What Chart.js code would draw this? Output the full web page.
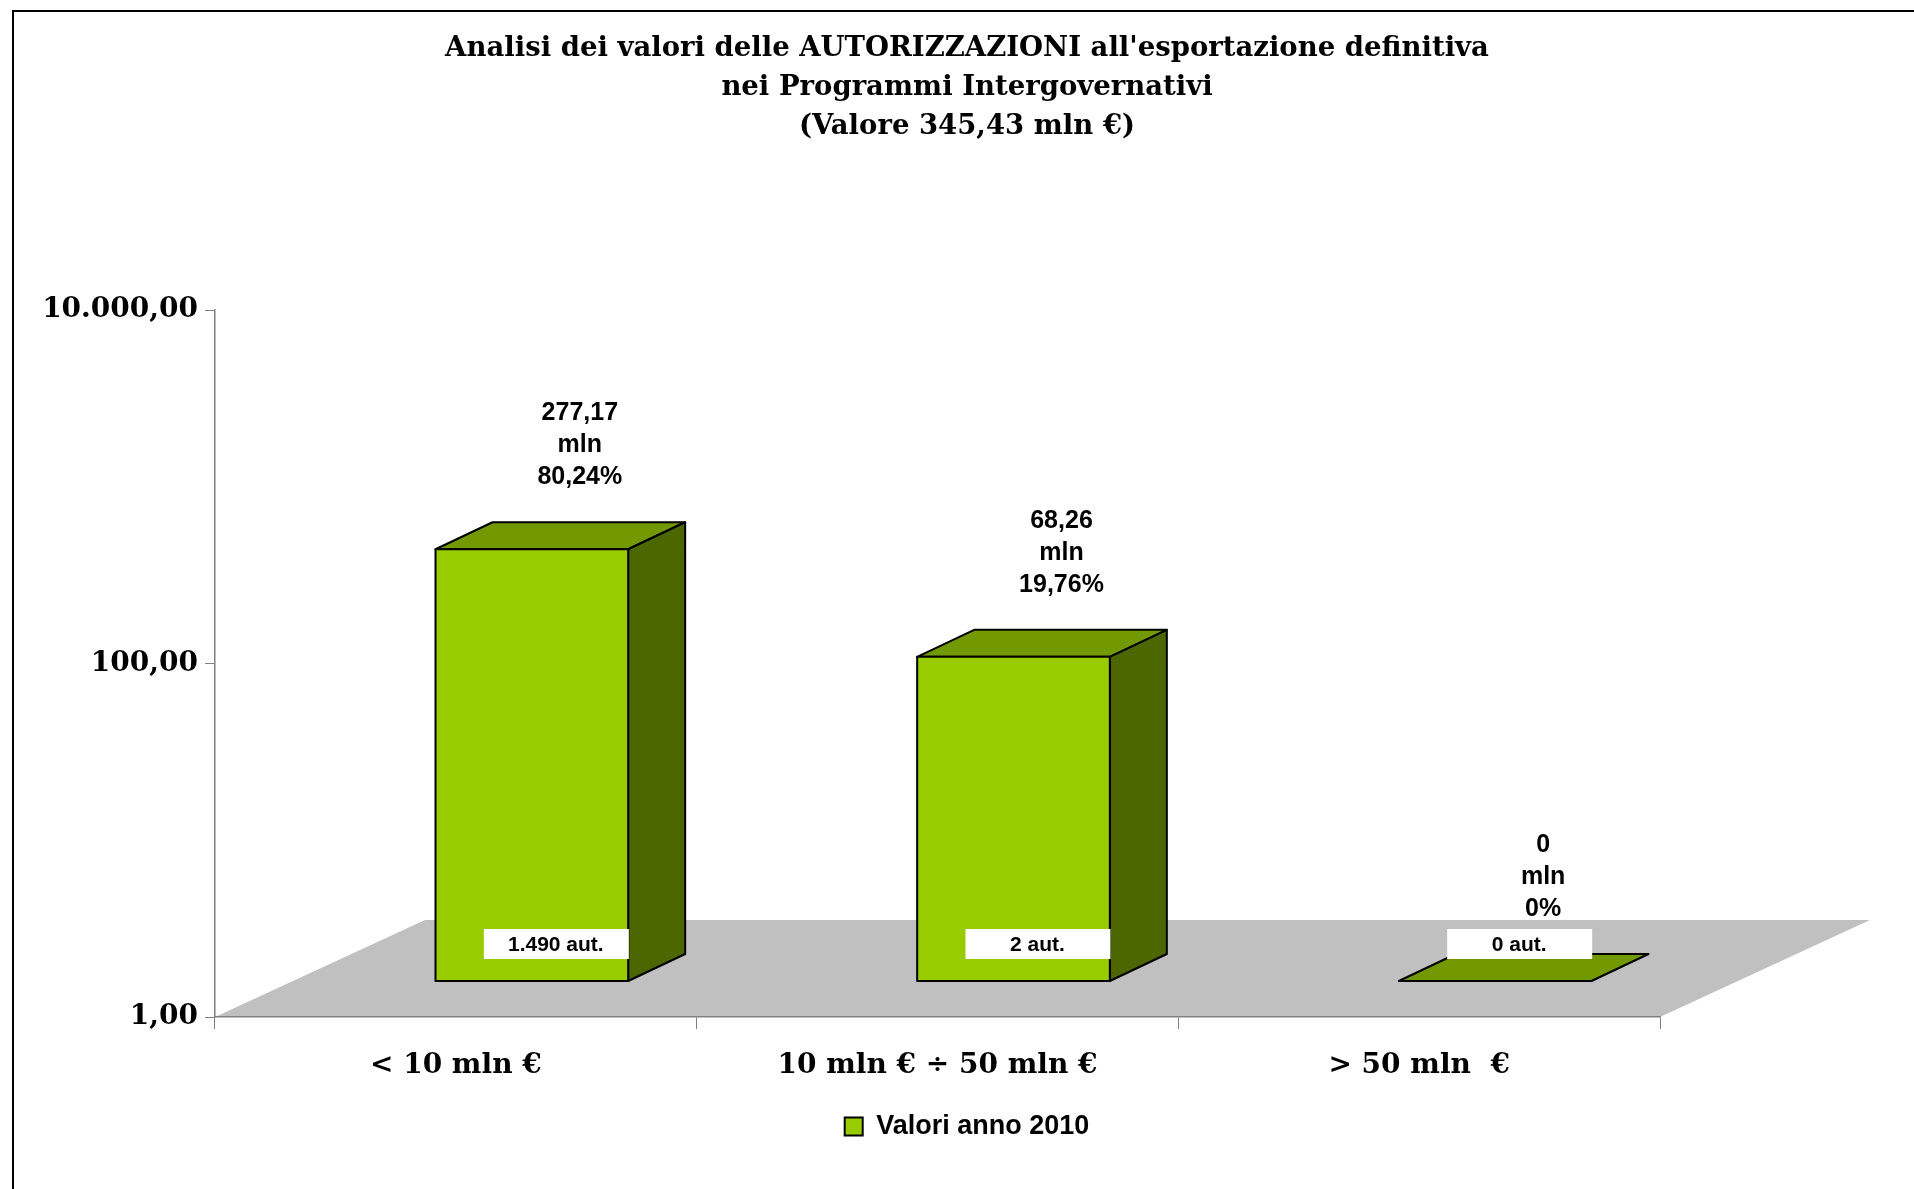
<!DOCTYPE html>
<html>
<head>
<meta charset="utf-8">
<script src="https://cdn.jsdelivr.net/npm/chart.js@4.4.1/dist/chart.umd.min.js"></script>
<style>
  html, body { margin: 0; padding: 0; background: #fff; overflow: hidden; }
  #frame { position: absolute; left: 12px; top: 10px; width: 1940px; height: 1220px; border-left: 2px solid #000; border-top: 2px solid #000; }
  canvas { position: absolute; left: 0; top: 0; }
</style>
</head>
<body>
<div id="frame"></div>
<canvas id="chart" width="1914" height="1189"></canvas>
<script>
const titleLines = [
    "Analisi dei valori delle AUTORIZZAZIONI all'esportazione definitiva",
    'nei Programmi Intergovernativi',
    '(Valore 345,43 mln €)'
];
const categories = ['< 10 mln €', '10 mln € ÷ 50 mln €', '> 50 mln  €'];
const values = [277.17, 68.26, 0];        // mln €
const percents = [80.24, 19.76, 0];
const authCounts = [1490, 2, 0];
const yTicks = [1, 100, 10000];
const yTickLabels = ['1,00', '100,00', '10.000,00'];
const seriesName = 'Valori anno 2010';

const BAR_FRAC = 0.4;
const FRONT = { dx: 76, dy: -36 };   // bar front plane vs axis plane
const DEPTH = { dx: 57, dy: -27 };   // bar depth
const FLOOR = { dx: 210, dy: -97 };

const serif = 'DejaVu Serif';
const sans = '"Liberation Sans", Arial, sans-serif';

function fmtValue(v) {
    return v === 0 ? '0' : v.toFixed(2).replace('.', ',');
}
function fmtPct(p) {
    return p === 0 ? '0%' : p.toFixed(2).replace('.', ',') + '%';
}
function fmtCount(n) {
    return String(n).replace(/\B(?=(\d{3})+(?!\d))/g, '.') + ' aut.';
}

function poly(ctx, pts, fill) {
    ctx.beginPath();
    ctx.moveTo(pts[0][0], pts[0][1]);
    for (let k = 1; k < pts.length; k++) ctx.lineTo(pts[k][0], pts[k][1]);
    ctx.closePath();
    ctx.fillStyle = fill;
    ctx.fill();
    ctx.stroke();
}

const bars3d = {
    id: 'bars3d',
    beforeDraw(chart) {
        // grey floor
        const { ctx, chartArea: a } = chart;
        ctx.save();
        ctx.fillStyle = '#C0C0C0';
        ctx.beginPath();
        ctx.moveTo(a.left, a.bottom);
        ctx.lineTo(a.right, a.bottom);
        ctx.lineTo(a.right + FLOOR.dx, a.bottom + FLOOR.dy);
        ctx.lineTo(a.left + FLOOR.dx, a.bottom + FLOOR.dy);
        ctx.closePath();
        ctx.fill();
        ctx.restore();
    },
    beforeDatasetDraw() {
        return false;
    },
    afterDatasetsDraw(chart) {
        const { ctx, scales: { x, y } } = chart;
        const w = x.width / categories.length * BAR_FRAC;
        ctx.save();
        ctx.strokeStyle = '#000';
        ctx.lineWidth = 2;
        ctx.lineJoin = 'round';
        values.forEach((v, i) => {
            const cx = x.getPixelForValue(i) + FRONT.dx;
            const l = cx - w / 2, r = cx + w / 2;
            const b = y.getPixelForValue(1) + FRONT.dy;
            const t = (v > 0 ? y.getPixelForValue(v) : y.getPixelForValue(1)) + FRONT.dy;
            // top
            poly(ctx, [[l, t], [l + DEPTH.dx, t + DEPTH.dy], [r + DEPTH.dx, t + DEPTH.dy], [r, t]], '#739900');
            if (b - t > 1) {
                poly(ctx, [[r, t], [r + DEPTH.dx, t + DEPTH.dy], [r + DEPTH.dx, b + DEPTH.dy], [r, b]], '#4C6600');
                poly(ctx, [[l, t], [r, t], [r, b], [l, b]], '#99CC00');
            }
        });
        // count boxes and value labels
        ctx.textAlign = 'center';
        ctx.textBaseline = 'middle';
        values.forEach((v, i) => {
            const cat = x.getPixelForValue(i);
            const b = y.getPixelForValue(1) + FRONT.dy;
            const t = (v > 0 ? y.getPixelForValue(v) : y.getPixelForValue(1)) + FRONT.dy;
            const bx = cat + 100, by = b - 37;
            ctx.fillStyle = '#fff';
            ctx.fillRect(bx - 72, by - 15, 145, 30);
            ctx.fillStyle = '#000';
            ctx.font = 'bold 21px ' + sans;
            ctx.fillText(fmtCount(authCounts[i]), bx, by + 1);

            ctx.font = 'bold 25px ' + sans;
            const lx = cat + 124, ly = t - 72;
            const lines = [fmtValue(v), 'mln', fmtPct(percents[i])];
            lines.forEach((s, k) => ctx.fillText(s, lx, ly - (2 - k) * 32));
        });
        ctx.restore();
    }
};

new Chart(document.getElementById('chart'), {
    type: 'bar',
    data: {
        labels: categories,
        datasets: [{
            label: seriesName,
            data: values,
            base: 1,
            backgroundColor: '#99CC00',
            borderColor: '#000',
            borderWidth: 2,
            categoryPercentage: 1,
            barPercentage: BAR_FRAC
        }]
    },
    options: {
        responsive: false,
        animation: false,
        layout: { padding: { left: 20, right: 0, top: 0, bottom: 39 } },
        scales: {
            x: {
                grid: { offset: true, drawOnChartArea: false, tickLength: 12, color: '#808080' },
                border: { color: '#808080', width: 1.5 },
                ticks: { color: '#000', font: { family: serif, size: 28, weight: 'bold' }, padding: 20 },
                afterFit: s => { s.height = 80; }
            },
            y: {
                type: 'logarithmic',
                min: 1,
                max: 10000,
                afterBuildTicks: s => { s.ticks = yTicks.map(v => ({ value: v })); },
                grid: { drawOnChartArea: false, tickLength: 10, color: '#808080' },
                border: { color: '#808080', width: 1.5 },
                ticks: {
                    color: '#000',
                    padding: 7,
                    font: { family: serif, size: 28, weight: 'bold' },
                    callback: (v, idx) => yTickLabels[idx]
                },
                afterFit: s => { s.width = 195; }
            },
            pad: {
                type: 'linear',
                position: 'right',
                grid: { display: false },
                border: { display: false },
                ticks: { display: false },
                afterFit: s => { s.width = 254; }
            }
        },
        plugins: {
            title: {
                display: true,
                text: titleLines,
                color: '#000',
                font: { family: serif, size: 27.5, weight: 'bold', lineHeight: '39px' },
                padding: { top: 29, bottom: 164 }
            },
            legend: {
                position: 'bottom',
                labels: {
                    color: '#000',
                    font: { family: sans, size: 27, weight: 'bold' },
                    boxWidth: 18,
                    boxHeight: 18,
                    padding: 16
                }
            },
            tooltip: { enabled: false }
        }
    },
    plugins: [bars3d]
});
</script>
</body>
</html>
